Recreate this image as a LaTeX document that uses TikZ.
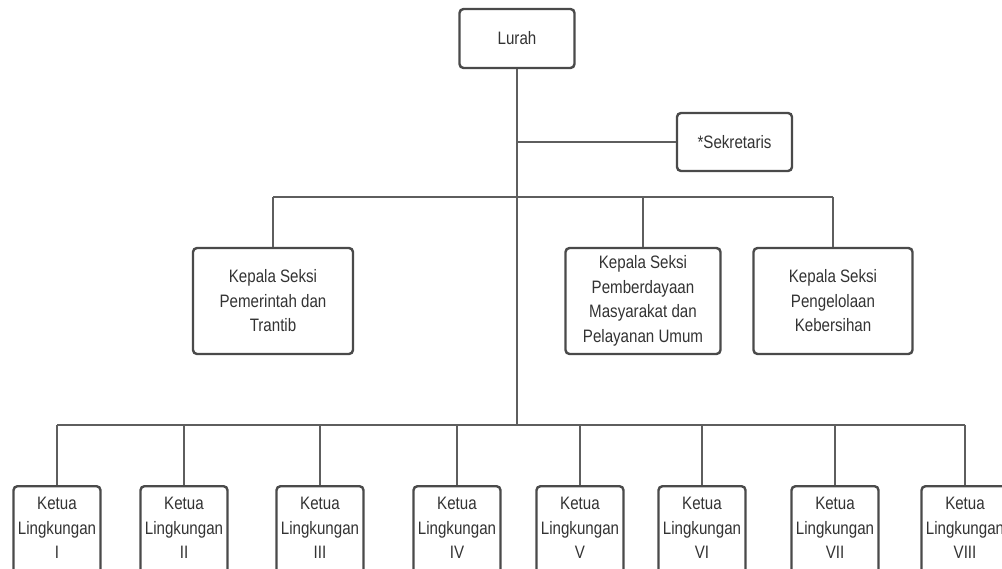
\documentclass[tikz,border=0pt]{standalone}
\usepackage{fontspec}
\setmainfont[FakeStretch=0.84]{Liberation Sans}
\definecolor{boxgray}{HTML}{4A4A4A}
\definecolor{linegray}{HTML}{5E5E5E}
\definecolor{txtgray}{HTML}{333333}
\newcommand\orgfont{\fontsize{18}{24.5}\selectfont}
% bottom-row label; the zero-width rule lets the frame run on below the page edge
\newcommand\lingk[1]{Ketua\\Lingkungan\\#1\rule[-40pt]{0pt}{40pt}}
\tikzset{
  orgbox/.style={draw=boxgray, line width=2.4pt, rounded corners=4pt, fill=white,
    align=center, text=txtgray, font=\orgfont, inner sep=0pt},
  ketuabox/.style={orgbox, minimum width=87pt, anchor=north, inner ysep=11pt},
  link/.style={draw=linegray, line width=1.8pt},
}
\begin{document}
\begin{tikzpicture}[x=1pt, y=-1pt]
\useasboundingbox (0,0) rectangle (1002,569);
\clip (0,0) rectangle (1002,569);

% top level
\node[orgbox, minimum width=115pt, minimum height=59pt] (lurah) at (517,38.5) {Lurah};
\node[orgbox, minimum width=115pt, minimum height=58pt] (sek) at (734.5,142) {*Sekretaris};

% section heads
\node[orgbox, minimum width=160pt, minimum height=106pt] (pem) at (273,301)
  {Kepala Seksi\\Pemerintah dan\\Trantib};
\node[orgbox, minimum width=155pt, minimum height=106pt] (pmu) at (643,301)
  {Kepala Seksi\\Pemberdayaan\\Masyarakat dan\\Pelayanan Umum};
\node[orgbox, minimum width=159pt, minimum height=106pt] (keb) at (833,301)
  {Kepala Seksi\\Pengelolaan\\Kebersihan};

% neighbourhood heads
\node[ketuabox] (k1) at (57,485)  {\lingk{I}};
\node[ketuabox] (k2) at (184,485) {\lingk{II}};
\node[ketuabox] (k3) at (320,485) {\lingk{III}};
\node[ketuabox] (k4) at (457,485) {\lingk{IV}};
\node[ketuabox] (k5) at (580,485) {\lingk{V}};
\node[ketuabox] (k6) at (702,485) {\lingk{VI}};
\node[ketuabox] (k7) at (835,485) {\lingk{VII}};
\node[ketuabox] (k8) at (965,485) {\lingk{VIII}};

% bus lines
\coordinate (busA) at (517,197);
\coordinate (busB) at (517,425);
\coordinate (sj) at (lurah.south |- sek.west);

\begin{scope}[on background layer/.try]
\end{scope}

\draw[link] (lurah.south) -- (busB);
\draw[link] (sj) -- (sek.west);
\draw[link] (pem.north |- busA) -- (keb.north |- busA);
\foreach \n in {pem,pmu,keb} \draw[link] (\n.north |- busA) -- (\n.north);
\draw[link] (k1.north |- busB) -- (k8.north |- busB);
\foreach \n in {k1,k2,k3,k4,k5,k6,k7,k8} \draw[link] (\n.north |- busB) -- (\n.north);
\end{tikzpicture}
\end{document}
